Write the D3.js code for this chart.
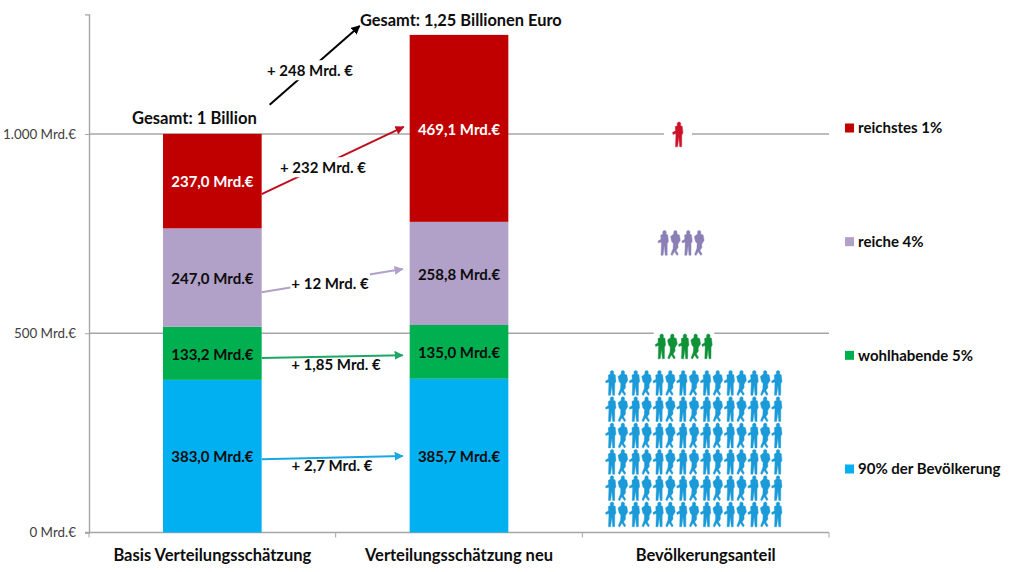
<!DOCTYPE html>
<html>
<head>
<meta charset="utf-8">
<script src="https://cdn.jsdelivr.net/npm/d3@7"></script>
<style>
  html, body { margin: 0; padding: 0; background: #fff; }
  text { font-family: Lato, "Open Sans", sans-serif; }
  .bold { font-weight: 700; fill: #0d0d0d; }
  .axis path, .axis line { stroke: #a6a6a6; }
  .axis path { stroke-width: 1.4; }
</style>
</head>
<body>
<div id="chart"></div>
<script>
// values in Mrd. Euro, bottom to top of the stack
var categories = ["Basis Verteilungsschätzung", "Verteilungsschätzung neu", "Bevölkerungsanteil"];
var groups = ["bottom90", "wohlhabend", "reich", "reichst"];
var basisValues = [383.0, 133.2, 247.0, 237.0];
var neuValues = [385.7, 135.0, 258.8, 469.1];
var valueLabels = [["383,0", "133,2", "247,0", "237,0"], ["385,7", "135,0", "258,8", "469,1"]];
var yTicks = [0, 500, 1000];

var legendLabels = ["reichstes 1%", "reiche 4%", "wohlhabende 5%", "90% der Bevölkerung"];
var peopleCounts = [90, 5, 4, 1];

// change arrows between the two bars, start and end read as values on the y axis
var changeLabels = ["+ 2,7 Mrd. €", "+ 1,85 Mrd. €", "+ 12 Mrd. €", "+ 232 Mrd. €", "+ 248 Mrd. €"];
var arrowFrom = [184, 438, 603, 849, 1073];
var arrowTo = [192, 445, 661, 1018, 1271];

var barColors = ["#00b0f0", "#00b050", "#b1a0c7", "#c00000"];
var arrowColors = ["#19a8e2", "#1fa667", "#b1a0c7", "#c00d1e", "#000000"];
var peopleColors = ["#1a9ad8", "#0f9138", "#8a80b6", "#cc1128"];

var svgWidth = 1024;
var svgHeight = 572;

var svg = d3.select("#chart").append("svg")
  .attr("width", svgWidth)
  .attr("height", svgHeight)
  .style("display", "block");

var defs = svg.append("defs");
arrowColors.forEach(function(c, i) {
  defs.append("marker")
    .attr("id", "head" + i)
    .attr("markerUnits", "userSpaceOnUse")
    .attr("viewBox", "0 0 10 10")
    .attr("refX", 9).attr("refY", 5)
    .attr("markerWidth", 9).attr("markerHeight", 9)
    .attr("orient", "auto")
    .append("path")
    .attr("d", "M0,0L10,5L0,10Z")
    .attr("fill", c);
});

var xScale = d3.scaleBand().domain(categories).range([89, 829]).paddingInner(0.6).paddingOuter(0.3);
var yScale = d3.scaleLinear().domain([0, 1300]).range([532.5, 14.4]);

// gridlines first so the bars sit on top
svg.append("g").selectAll("line")
  .data(yTicks.slice(1))
  .enter().append("line")
  .attr("x1", 89).attr("x2", 829)
  .attr("y1", d => yScale(d)).attr("y2", d => yScale(d))
  .attr("stroke", "#a6a6a6")
  .attr("stroke-width", 1.4);

var leftAxis = d3.axisLeft(yScale)
  .tickValues(yTicks)
  .tickSize(4)
  .tickPadding(9)
  .tickFormat(d => (d >= 1000 ? "1.000" : d) + " Mrd.€");

svg.append("g")
  .attr("class", "axis")
  .attr("transform", "translate(89,0)")
  .call(leftAxis)
  .call(g => g.selectAll("text").attr("font-size", 13.4).attr("fill", "#404040"));

// bottom axis: ticks between the categories
var tickX = d3.range(4).map(i => 89 + i * xScale.step());
var baseAxis = svg.append("g").attr("class", "axis");
baseAxis.append("line")
  .attr("x1", 85).attr("x2", 829)
  .attr("y1", yScale(0)).attr("y2", yScale(0))
  .attr("stroke-width", 1.4);
baseAxis.selectAll(".tick")
  .data(tickX)
  .enter().append("line")
  .attr("class", "tick")
  .attr("x1", d => d).attr("x2", d => d)
  .attr("y1", yScale(0)).attr("y2", yScale(0) + 5);

svg.append("g").selectAll("text")
  .data(categories)
  .enter().append("text")
  .attr("class", "bold")
  .attr("x", d => xScale(d) + xScale.bandwidth() / 2)
  .attr("y", 561)
  .attr("text-anchor", "middle")
  .attr("font-size", 16.5)
  .text(d => d);

// stacked bars
var table = [basisValues, neuValues].map(function(vals, i) {
  var row = { cat: categories[i] };
  groups.forEach(function(g, j) { row[g] = vals[j]; });
  return row;
});
var stacked = d3.stack().keys(groups)(table);

stacked.forEach(function(layer, j) {
  svg.append("g").selectAll("rect")
    .data(layer)
    .enter().append("rect")
    .attr("x", d => xScale(d.data.cat))
    .attr("width", xScale.bandwidth())
    .attr("y", d => yScale(d[1]))
    .attr("height", d => yScale(d[0]) - yScale(d[1]))
    .attr("fill", barColors[j]);

  svg.append("g").selectAll("text")
    .data(layer)
    .enter().append("text")
    .attr("x", d => xScale(d.data.cat) + xScale.bandwidth() / 2)
    .attr("y", d => yScale((d[0] + d[1]) / 2) + 1)
    .attr("dy", "0.35em")
    .attr("text-anchor", "middle")
    .attr("font-size", 15)
    .attr("font-weight", 700)
    .attr("fill", j == 3 ? "#fff" : "#0d0d0d")
    .text((d, i) => valueLabels[i][j] + " Mrd.€");
});

// arrows between the bars
var bar0Right = xScale(categories[0]) + xScale.bandwidth();
var bar1Left = xScale(categories[1]);
var arrowX1 = [0, 0, 0, 0, 8];
var arrowX2 = [-7, -7, -7, -6, -50];
arrowFrom.forEach(function(v, i) {
  svg.append("line")
    .attr("x1", bar0Right + arrowX1[i])
    .attr("y1", yScale(v))
    .attr("x2", bar1Left + arrowX2[i])
    .attr("y2", yScale(arrowTo[i]))
    .attr("stroke", arrowColors[i])
    .attr("stroke-width", 2)
    .attr("marker-end", "url(#head" + i + ")");
});

// labels of the arrows, the upper three knock a gap out of their line
var labelX = [332, 336, 330, 323, 310];
var labelY = [466, 365, 284, 168, 71];
var knockout = [false, false, true, true, true];
changeLabels.forEach(function(t, i) {
  var label = svg.append("text")
    .attr("class", "bold")
    .attr("x", labelX[i])
    .attr("y", labelY[i])
    .attr("dy", "0.35em")
    .attr("text-anchor", "middle")
    .attr("font-size", 15)
    .text(t);
  if (knockout[i]) {
    var box = label.node().getBBox();
    svg.insert("rect", function() { return label.node(); })
      .attr("x", box.x - 1).attr("width", box.width + 2)
      .attr("y", box.y - 1).attr("height", box.height + 2)
      .attr("fill", "#fff");
  }
});

// totals
svg.append("text").attr("class", "bold")
  .attr("x", 132).attr("y", 118).attr("dy", "0.35em")
  .attr("font-size", 16.6)
  .text("Gesamt: 1 Billion");
svg.append("text").attr("class", "bold")
  .attr("x", 360).attr("y", 20).attr("dy", "0.35em")
  .attr("font-size", 16.4)
  .text("Gesamt: 1,25 Billionen Euro");

// pictogram, one figure per percent of the population
var personA = "M1,0C2.2,0 2.9,1 2.6,2.4L2.2,3.4L4,4.2L4.7,11L3.6,13L3.5,24.8L1.6,24.8L0.8,15L-0.4,24.8L-2.4,24.8L-2,13L-2.2,11.5L-4.8,12.4L-5.2,10.6L-2.4,8.8L-2.6,4.6L-0.4,3.4L-0.8,2.4C-1,1 -0.2,0 1,0Z";
var personB = "M0,0C1.2,0 1.9,1 1.6,2.4L1.4,3.4L3.8,4.6L4.7,10L3.4,12L2.4,14L2.6,17L0.7,20L2.8,23.6L1.6,25L-1,21L-3,25L-4.4,24L-2.2,18L-2,13L-3.6,11L-4.6,6L-1.6,3.4L-1.6,2.4C-1.8,1 -1.2,0 0,0Z";

var peopleLayout = [
  { cols: 15, left: 611, stepX: 11.86, top: 370.5, mask: 0 },
  { cols: 5, left: 660.7, stepX: 11.65, top: 334, mask: 7 },
  { cols: 4, left: 663.5, stepX: 11.9, top: 230.5, mask: 0 },
  { cols: 1, left: 678, stepX: 0, top: 122, mask: 14 }
];
var stepY = 26.3;

peopleCounts.forEach(function(n, g) {
  var l = peopleLayout[g];
  var people = d3.range(n);
  if (l.mask > 0) {
    svg.append("rect")
      .attr("x", l.left - l.mask)
      .attr("width", (l.cols - 1) * l.stepX + 2 * l.mask)
      .attr("y", l.top - 2)
      .attr("height", 28)
      .attr("fill", "#fff");
  }
  svg.append("g").selectAll("path")
    .data(people)
    .enter().append("path")
    .attr("d", d => (d % l.cols) % 2 == 0 ? personA : personB)
    .attr("fill", peopleColors[g])
    .attr("stroke", peopleColors[g])
    .attr("stroke-width", 0.4)
    .attr("transform", d => "translate(" + (l.left + (d % l.cols) * l.stepX) + "," + (l.top + Math.floor(d / l.cols) * stepY) + ") scale(1.05,1)");
});

// legend
var legendY = d3.scalePoint().domain(legendLabels).range([128, 469]);
var legendColors = barColors.slice().reverse();
var legend = svg.append("g").selectAll("g")
  .data(legendLabels)
  .enter().append("g")
  .attr("transform", d => "translate(845," + legendY(d) + ")");
legend.append("rect")
  .attr("x", 0).attr("y", -4.5)
  .attr("width", 9).attr("height", 9)
  .attr("fill", (d, i) => legendColors[i]);
legend.append("text")
  .attr("class", "bold")
  .attr("x", 13)
  .attr("dy", "0.35em")
  .attr("font-size", 15)
  .text(d => d);
</script>
</body>
</html>
